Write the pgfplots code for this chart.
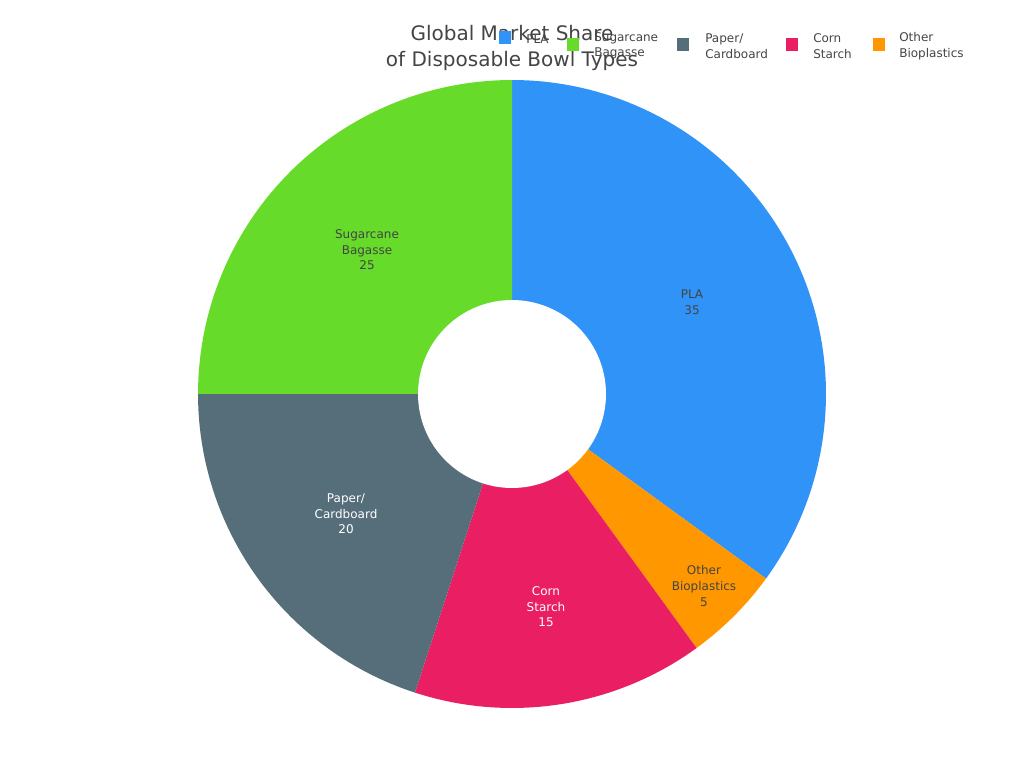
\documentclass[border=0pt]{standalone}
\usepackage{pgfplots}
\pgfplotsset{compat=1.18}
\usepackage{fontspec}
\setmainfont{DejaVu Sans}

\definecolor{cPLA}{HTML}{3093F7}
\definecolor{cSug}{HTML}{66DB2A}
\definecolor{cPap}{HTML}{556E7A}
\definecolor{cCorn}{HTML}{E91E63}
\definecolor{cOth}{HTML}{FF9800}
\definecolor{txt}{HTML}{444444}

% market shares (%)
\def\vPLA{35}
\def\vOth{5}
\def\vCorn{15}
\def\vPap{20}
\def\vSug{25}

% slice boundaries, clockwise from the top
\pgfmathsetmacro\aA{90-3.6*\vPLA}
\pgfmathsetmacro\aB{\aA-3.6*\vOth}
\pgfmathsetmacro\aC{\aB-3.6*\vCorn}
\pgfmathsetmacro\aD{\aC-3.6*\vPap}
\pgfmathsetmacro\aE{\aD-3.6*\vSug}

\newcommand\lbl{\fontsize{9}{11.7}\selectfont}

\begin{document}
\begin{tikzpicture}
\useasboundingbox (0,0) rectangle (768pt,576pt);
\begin{axis}[
  width=768pt, height=576pt, scale only axis,
  xmin=0, xmax=1024, ymin=0, ymax=768,
  hide axis, clip=false]
  % slices (centre 512,374; outer radius 314)
  \addplot[fill=cPLA, draw=none, domain=\aA:90, samples=90] ({512+314*cos(x)},{374+314*sin(x)}) -- (axis cs:512,374) -- cycle;
  \addplot[fill=cOth, draw=none, domain=\aB:\aA, samples=20] ({512+314*cos(x)},{374+314*sin(x)}) -- (axis cs:512,374) -- cycle;
  \addplot[fill=cCorn, draw=none, domain=\aC:\aB, samples=40] ({512+314*cos(x)},{374+314*sin(x)}) -- (axis cs:512,374) -- cycle;
  \addplot[fill=cPap, draw=none, domain=\aD:\aC, samples=50] ({512+314*cos(x)},{374+314*sin(x)}) -- (axis cs:512,374) -- cycle;
  \addplot[fill=cSug, draw=none, domain=\aE:\aD, samples=60] ({512+314*cos(x)},{374+314*sin(x)}) -- (axis cs:512,374) -- cycle;
  % hole
  \addplot[fill=white, draw=none, domain=0:360, samples=120] ({512+94*cos(x)},{374+94*sin(x)}) -- cycle;

  % slice labels
  \node[align=center, text=txt, font=\lbl] at (axis cs:692,466) {PLA\\\vPLA};
  \node[align=center, text=txt, font=\lbl] at (axis cs:367,518) {Sugarcane\\Bagasse\\\vSug};
  \node[align=center, text=white, font=\lbl] at (axis cs:346,254) {Paper/\\Cardboard\\\vPap};
  \node[align=center, text=white, font=\lbl] at (axis cs:546,161) {Corn\\Starch\\\vCorn};
  \node[align=center, text=txt, font=\lbl] at (axis cs:704,182) {Other\\Bioplastics\\\vOth};

  % title
  \node[align=center, text=txt, font=\fontsize{15}{19.5}\selectfont] at (axis cs:512,720) {Global Market Share\\of Disposable Bowl Types};

  % legend
  \addplot[only marks, mark=square*, mark size=4.3pt, color=cPLA] coordinates {(505,730.5)};
  \addplot[only marks, mark=square*, mark size=4.3pt, color=cSug] coordinates {(573,723.5)};
  \addplot[only marks, mark=square*, mark size=4.3pt, color=cPap] coordinates {(683,723.5)};
  \addplot[only marks, mark=square*, mark size=4.3pt, color=cCorn] coordinates {(792,723.5)};
  \addplot[only marks, mark=square*, mark size=4.3pt, color=cOth] coordinates {(879,723.5)};
  \node[anchor=west, inner sep=0pt, align=left, text=txt, font=\lbl] at (axis cs:526,729) {PLA};
  \node[anchor=west, inner sep=0pt, align=left, text=txt, font=\lbl] at (axis cs:594,722) {Sugarcane\\Bagasse};
  \node[anchor=west, inner sep=0pt, align=left, text=txt, font=\lbl] at (axis cs:705,722) {Paper/\\Cardboard};
  \node[anchor=west, inner sep=0pt, align=left, text=txt, font=\lbl] at (axis cs:813,722) {Corn\\Starch};
  \node[anchor=west, inner sep=0pt, align=left, text=txt, font=\lbl] at (axis cs:899,722) {Other\\Bioplastics};
\end{axis}
\end{tikzpicture}
\end{document}
